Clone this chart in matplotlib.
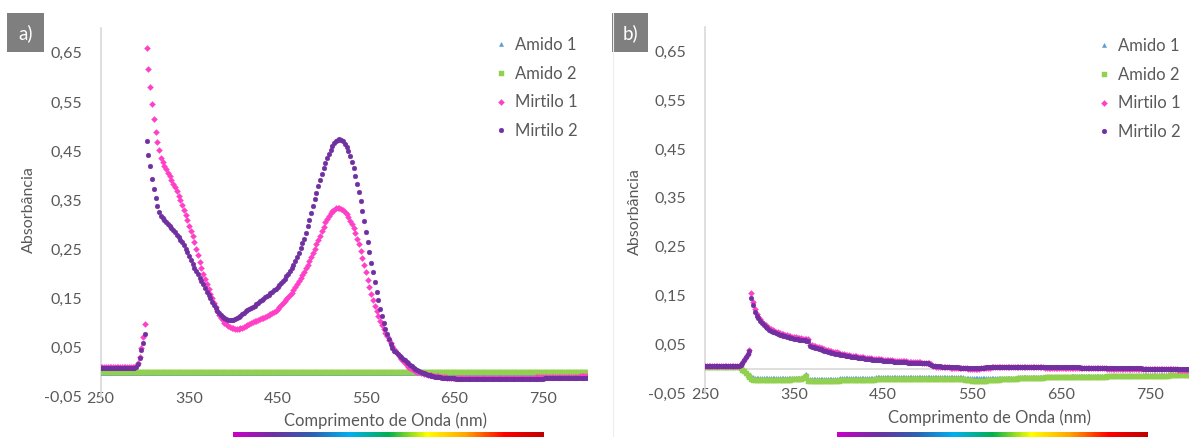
import numpy as np
import matplotlib
matplotlib.use("Agg")
import matplotlib.pyplot as plt
from matplotlib.colors import LinearSegmentedColormap
from matplotlib.lines import Line2D
from matplotlib.patches import Rectangle
from matplotlib.ticker import FuncFormatter

plt.rcParams['font.family'] = ['Lato', 'DejaVu Sans']

# comprimento de onda, passo de 2 nm
wavelength = np.arange(250, 802, 2)

# ---------------- a) ----------------
mirtilo1_a = ([0.010] * 20
              + [0.012, 0.018, 0.030, 0.050, 0.072, 0.097]
              + [0.660, 0.617, 0.580, 0.546, 0.515, 0.489, 0.468, 0.452, 0.436, 0.428,
                 0.420, 0.413, 0.406, 0.400, 0.392, 0.384, 0.376, 0.368, 0.359, 0.351,
                 0.341, 0.331, 0.320, 0.309, 0.298, 0.287, 0.277, 0.264, 0.251, 0.238,
                 0.225, 0.212, 0.200, 0.190, 0.180, 0.170, 0.160, 0.150, 0.140, 0.132,
                 0.124, 0.117, 0.111, 0.106, 0.101, 0.097, 0.094, 0.092, 0.090, 0.089]
              + [0.088, 0.088, 0.088, 0.089, 0.090, 0.092, 0.094, 0.096, 0.098, 0.100,
                 0.102, 0.104, 0.105, 0.107, 0.108, 0.110, 0.111, 0.113, 0.114, 0.116,
                 0.118, 0.120, 0.122, 0.125, 0.129, 0.132, 0.136, 0.140, 0.144, 0.148,
                 0.152, 0.157, 0.162, 0.168, 0.174, 0.180, 0.186, 0.192, 0.198, 0.204,
                 0.211, 0.219, 0.227, 0.235, 0.243, 0.251, 0.260, 0.269, 0.278, 0.287]
              + [0.296, 0.305, 0.312, 0.318, 0.323, 0.328, 0.331, 0.334, 0.335, 0.335,
                 0.333, 0.330, 0.326, 0.321, 0.315, 0.308, 0.301, 0.293, 0.283, 0.272,
                 0.260, 0.247, 0.233, 0.218, 0.203, 0.188, 0.174, 0.160, 0.147, 0.135,
                 0.124, 0.114, 0.105, 0.096, 0.088, 0.080, 0.073, 0.066, 0.059, 0.053,
                 0.047, 0.041, 0.036, 0.031, 0.026, 0.022, 0.018, 0.014, 0.011, 0.008]
              + [0.006, 0.004, 0.002, 0.001, 0.000, -0.001, -0.002, -0.003, -0.004, -0.005,
                 -0.006, -0.006, -0.007, -0.007, -0.008, -0.008, -0.009, -0.009, -0.010, -0.010]
              + [-0.011] * 30
              + [-0.011] * 20 + [-0.010] * 15 + [-0.009] * 10 + [-0.008] * 5)

mirtilo2_a = ([0.008] * 20
              + [0.010, 0.016, 0.028, 0.045, 0.060, 0.077]
              + [0.470, 0.442, 0.420, 0.393, 0.372, 0.354, 0.338, 0.326, 0.318, 0.314,
                 0.310, 0.306, 0.301, 0.297, 0.293, 0.289, 0.285, 0.280, 0.275, 0.270,
                 0.264, 0.258, 0.251, 0.244, 0.237, 0.229, 0.221, 0.213, 0.206, 0.199,
                 0.192, 0.186, 0.179, 0.172, 0.164, 0.157, 0.150, 0.143, 0.136, 0.130,
                 0.125, 0.120, 0.116, 0.113, 0.110, 0.108, 0.107, 0.106, 0.106, 0.107]
              + [0.108, 0.110, 0.112, 0.115, 0.118, 0.121, 0.124, 0.127, 0.129, 0.131,
                 0.133, 0.135, 0.138, 0.141, 0.144, 0.147, 0.149, 0.152, 0.155, 0.158,
                 0.161, 0.164, 0.167, 0.170, 0.173, 0.177, 0.181, 0.185, 0.190, 0.195,
                 0.200, 0.206, 0.212, 0.219, 0.226, 0.234, 0.243, 0.252, 0.262, 0.272,
                 0.284, 0.297, 0.310, 0.324, 0.338, 0.352, 0.365, 0.378, 0.391, 0.403]
              + [0.415, 0.426, 0.436, 0.445, 0.453, 0.460, 0.466, 0.470, 0.473, 0.474,
                 0.473, 0.470, 0.465, 0.458, 0.450, 0.440, 0.428, 0.415, 0.400, 0.384,
                 0.367, 0.348, 0.328, 0.307, 0.286, 0.265, 0.244, 0.223, 0.203, 0.183,
                 0.164, 0.146, 0.129, 0.114, 0.100, 0.088, 0.077, 0.067, 0.058, 0.050,
                 0.044, 0.040, 0.036, 0.033, 0.030, 0.027, 0.024, 0.021, 0.018, 0.015]
              + [0.012, 0.009, 0.007, 0.005, 0.003, 0.001, -0.001, -0.002, -0.004, -0.005,
                 -0.006, -0.007, -0.008, -0.009, -0.009, -0.010, -0.010, -0.011, -0.011, -0.012]
              + [-0.012] * 5 + [-0.013] * 25
              + [-0.013] * 25 + [-0.012] * 15 + [-0.011] * 10)

amido1_a = [-0.002] * 276
amido2_a = [0.000] * 276

# ---------------- b) ----------------
mirtilo1_b = ([0.005] * 20
              + [0.007, 0.012, 0.018, 0.025, 0.031, 0.038]
              + [0.155, 0.137, 0.122, 0.113, 0.107, 0.101, 0.096, 0.092, 0.089, 0.086,
                 0.083, 0.081, 0.079, 0.078, 0.076, 0.075, 0.073, 0.072, 0.071, 0.070,
                 0.069, 0.068, 0.067, 0.066, 0.065, 0.065, 0.064, 0.063, 0.063, 0.062,
                 0.062, 0.061, 0.061, 0.049, 0.048, 0.047, 0.046, 0.045, 0.044, 0.043,
                 0.042, 0.040, 0.039, 0.038, 0.037, 0.036, 0.035, 0.034, 0.034, 0.033]
              + [0.031, 0.031, 0.030, 0.029, 0.029, 0.028, 0.027, 0.027, 0.026, 0.026,
                 0.025, 0.025, 0.024, 0.024, 0.023, 0.023, 0.022, 0.022, 0.021, 0.021,
                 0.021, 0.020, 0.020, 0.020, 0.019, 0.019, 0.019, 0.018, 0.018, 0.018,
                 0.017, 0.017, 0.017, 0.017, 0.016, 0.016, 0.016, 0.016, 0.015, 0.015,
                 0.015, 0.015, 0.014, 0.014, 0.014, 0.014, 0.013, 0.013, 0.013, 0.013]
              + [0.011, 0.009, 0.006, 0.005, 0.004, 0.004, 0.004, 0.003, 0.003, 0.003,
                 0.003, 0.003, 0.002, 0.002, 0.002, 0.002, 0.002, 0.001, 0.001, 0.001,
                 0.001, 0.001, 0.000, 0.000, 0.000, 0.000, 0.000, 0.000, 0.000, 0.001,
                 0.001, 0.001, 0.002, 0.002, 0.002, 0.003, 0.003, 0.003, 0.003, 0.003]
              + [0.003] * 10
              + [0.003] * 15 + [0.002] * 20 + [0.001] * 15
              + [0.000] * 20 + [-0.001] * 20 + [-0.002] * 10)

mirtilo2_b = ([0.005] * 20
              + [0.007, 0.012, 0.018, 0.024, 0.030, 0.037]
              + [0.145, 0.131, 0.117, 0.109, 0.104, 0.098, 0.093, 0.089, 0.086, 0.083,
                 0.080, 0.078, 0.076, 0.075, 0.073, 0.072, 0.070, 0.069, 0.068, 0.067,
                 0.066, 0.065, 0.064, 0.063, 0.062, 0.062, 0.061, 0.060, 0.060, 0.059,
                 0.059, 0.058, 0.058, 0.046, 0.045, 0.044, 0.043, 0.042, 0.041, 0.040,
                 0.039, 0.037, 0.036, 0.035, 0.034, 0.033, 0.032, 0.031, 0.031, 0.030]
              + [0.029, 0.029, 0.028, 0.027, 0.027, 0.026, 0.025, 0.025, 0.024, 0.024,
                 0.023, 0.023, 0.022, 0.022, 0.021, 0.021, 0.020, 0.020, 0.019, 0.019,
                 0.019, 0.018, 0.018, 0.018, 0.017, 0.017, 0.017, 0.016, 0.016, 0.016,
                 0.015, 0.015, 0.015, 0.015, 0.014, 0.014, 0.014, 0.014, 0.013, 0.013,
                 0.013, 0.013, 0.012, 0.012, 0.012, 0.012, 0.011, 0.011, 0.011, 0.011]
              + [0.010, 0.008, 0.006, 0.005, 0.005, 0.005, 0.005, 0.004, 0.004, 0.004,
                 0.004, 0.004, 0.003, 0.003, 0.003, 0.003, 0.003, 0.002, 0.002, 0.002,
                 0.002, 0.002, 0.001, 0.001, 0.001, 0.001, 0.001, 0.001, 0.001, 0.002,
                 0.002, 0.002, 0.003, 0.003, 0.003, 0.004, 0.004, 0.004, 0.004, 0.004]
              + [0.004] * 10
              + [0.004] * 15 + [0.003] * 20 + [0.002] * 15
              + [0.001] * 20 + [0.000] * 20 + [-0.001] * 10)

amido1_b = ([0.004] * 20
            + [0.002, -0.001, -0.004, -0.007, -0.010, -0.013]
            + [-0.015, -0.017] + [-0.018] * 27 + [-0.016, -0.012, -0.011, -0.021]
            + [-0.021] * 17
            + [-0.018] * 20 + [-0.017] * 30
            + [-0.017] * 20 + [-0.019] * 16 + [-0.018] * 14
            + [-0.017] * 15 + [-0.016] * 15 + [-0.015] * 20
            + [-0.014] * 20 + [-0.013] * 15 + [-0.012] * 15)

amido2_b = ([0.003] * 20
            + [0.001, -0.002, -0.005, -0.008, -0.012, -0.016]
            + [-0.020, -0.022, -0.023] + [-0.023] * 12 + [-0.022] * 8 + [-0.021] * 6
            + [-0.019, -0.016, -0.015, -0.025]
            + [-0.025] * 16 + [-0.024]
            + [-0.023] * 10 + [-0.022] * 10 + [-0.021] * 30
            + [-0.021] * 20 + [-0.023] * 4 + [-0.025] * 9 + [-0.022] * 7 + [-0.020] * 10
            + [-0.019] * 15 + [-0.017] * 15 + [-0.016] * 20
            + [-0.015] * 20 + [-0.014] * 15 + [-0.013] * 15)

series_names = ["Amido 1", "Amido 2", "Mirtilo 1", "Mirtilo 2"]
x_ticks = [250, 350, 450, 550, 650, 750]
y_ticks = [-0.05, 0.05, 0.15, 0.25, 0.35, 0.45, 0.55, 0.65]

colors = ["#5b9bd5", "#92d050", "#ff3fc8", "#7030a0"]
markers = ["^", "s", "D", "o"]
sizes = [3.0, 3.6, 3.0, 3.4]
grey_txt = "#595959"
axis_col = "#d9d9d9"

W, H = 1189, 437
fig = plt.figure(figsize=(W / 100, H / 100), dpi=100)


def px_axes(left, right, top, bottom):
    return fig.add_axes([left / W, 1 - bottom / H, (right - left) / W, (bottom - top) / H])


def draw_panel(ax, data, tag, legend_xy, tag_box, xlab_xy, ylab_xy, bar_x):
    for vals, c, m, s, name in zip(data, colors, markers, sizes, series_names):
        assert len(vals) == len(wavelength), (name, len(vals))
        ax.plot(wavelength, vals, linestyle="none", marker=m, ms=s,
                mfc=c, mec=c, mew=0.3, label=name, zorder=3)
    ax.axhline(0, color=axis_col, lw=1.2, zorder=1)
    ax.set_xlim(250, 800)
    ax.set_ylim(-0.05, 0.70)
    ax.set_xticks(x_ticks)
    ax.set_yticks(y_ticks)
    ax.yaxis.set_major_formatter(FuncFormatter(lambda v, p: f"{v:.2f}".replace(".", ",")))
    ax.tick_params(axis="both", length=0, labelsize=11.5, labelcolor=grey_txt)
    ax.tick_params(axis="y", pad=13.5)
    ax.tick_params(axis="x", pad=-3.5)
    for sp in ["top", "right", "bottom"]:
        ax.spines[sp].set_visible(False)
    ax.spines["left"].set_color(axis_col)
    ax.spines["left"].set_linewidth(1.2)
    ax.patch.set_alpha(0)

    leg = ax.legend(loc="upper left", bbox_to_anchor=(legend_xy[0] / W, 1 - legend_xy[1] / H),
                    bbox_transform=fig.transFigure, frameon=False, fontsize=12,
                    handlelength=0.8, handletextpad=0.45, labelspacing=0.76,
                    borderpad=0, borderaxespad=0, markerscale=1.0)
    for t in leg.get_texts():
        t.set_color(grey_txt)

    # caixa cinzenta com a letra
    bx, by, bw, bh = tag_box
    fig.add_artist(Rectangle((bx / W, 1 - (by + bh) / H), bw / W, bh / H,
                             transform=fig.transFigure, facecolor="#7f7f7f", edgecolor="none"))
    fig.text((bx + bw / 2) / W, 1 - (by + bh / 2 + 1) / H, tag, color="white",
             fontsize=13.5, ha="center", va="center")

    fig.text(xlab_xy[0] / W, 1 - xlab_xy[1] / H, "Comprimento de Onda (nm)",
             color=grey_txt, fontsize=12, ha="center", va="center")
    fig.text(ylab_xy[0] / W, 1 - ylab_xy[1] / H, "Absorbância", color=grey_txt,
             fontsize=11.5, ha="center", va="center", rotation=90)

    # barra do espectro visivel
    cax = fig.add_axes([bar_x[0] / W, 0, (bar_x[1] - bar_x[0]) / W, 5.5 / H])
    cax.imshow(np.linspace(0, 1, 300)[None, :], aspect="auto", cmap=spectrum)
    cax.axis("off")


spectrum = LinearSegmentedColormap.from_list(
    "spec", ["#c800c8", "#7030a0", "#2e5fb0", "#00b0f0", "#00b050",
             "#ffff00", "#ffa500", "#ff0000", "#c00000"])

ax_a = px_axes(100.7, 587, 28.3, 396.7)
draw_panel(ax_a, [amido1_a, amido2_a, mirtilo1_a, mirtilo2_a], "a)",
           (494, 37), (7, 13, 37, 39), (386, 421), (29, 210), (233, 544))

fig.add_artist(Line2D([613 / W, 613 / W], [0, 1 - 13 / H], transform=fig.transFigure,
                      color="#ededed", lw=0.8))

ax_b = px_axes(705, 1194.5, 26.7, 393.3)
draw_panel(ax_b, [amido1_b, amido2_b, mirtilo1_b, mirtilo2_b], "b)",
           (1097, 38), (612, 13, 36, 39), (990, 418), (635, 212), (837, 1148))

plt.savefig("out.png", dpi=100)
